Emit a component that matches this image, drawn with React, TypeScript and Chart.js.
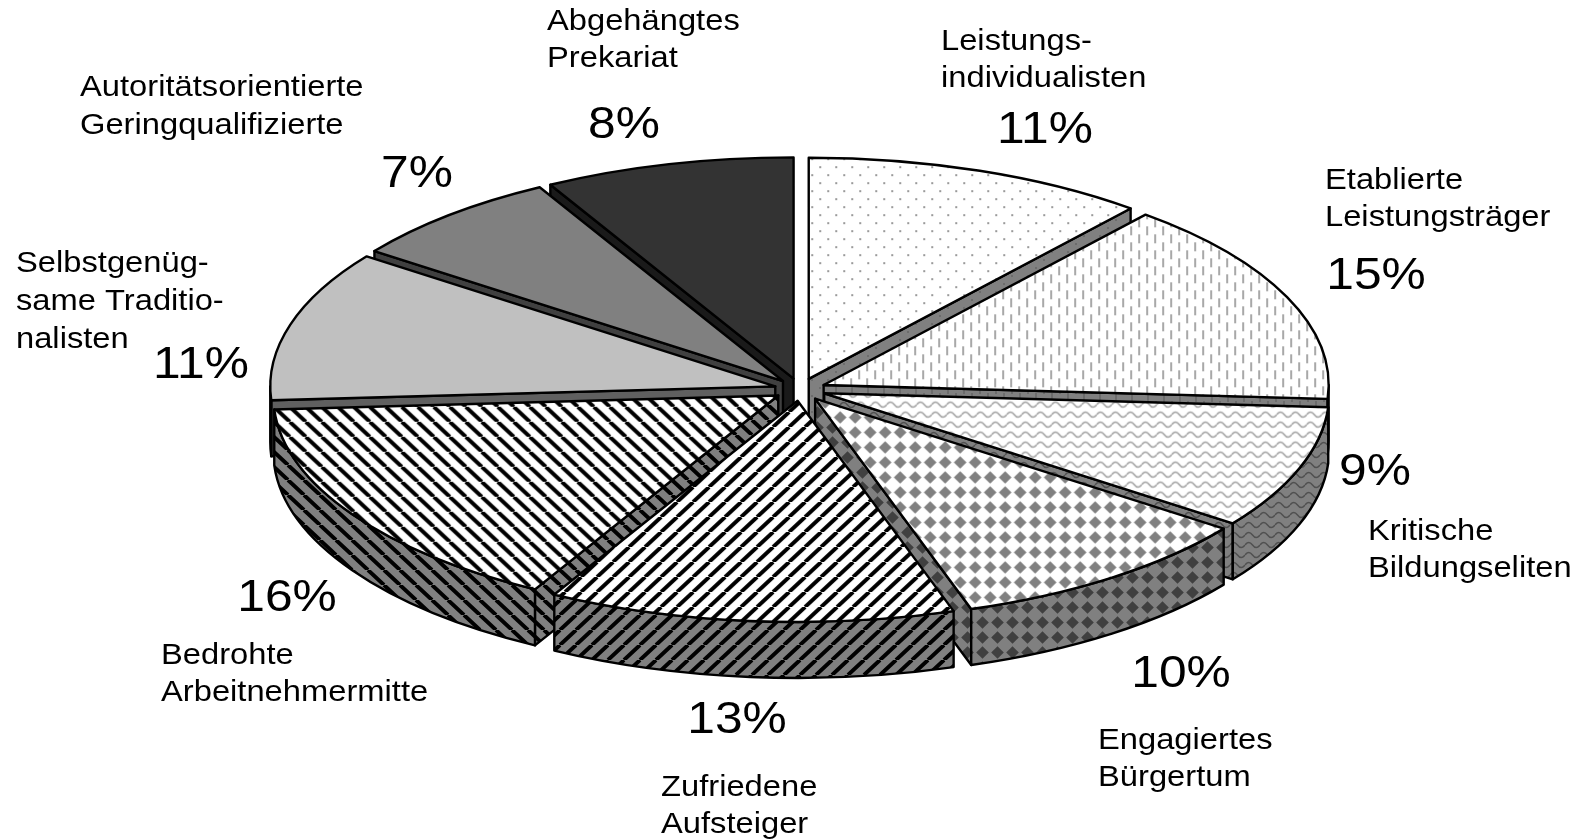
import React, { useEffect, useRef } from "react";
import Chart from "chart.js/auto";

const categories = [
  ["Leistungs-", "individualisten"],
  ["Etablierte", "Leistungsträger"],
  ["Kritische", "Bildungseliten"],
  ["Engagiertes", "Bürgertum"],
  ["Zufriedene", "Aufsteiger"],
  ["Bedrohte", "Arbeitnehmermitte"],
  ["Selbstgenüg-", "same Traditio-", "nalisten"],
  ["Autoritätsorientierte", "Geringqualifizierte"],
  ["Abgehängtes", "Prekariat"],
];
const values = [11, 15, 9, 10, 13, 16, 11, 7, 8];

// label layout, full-size pixels: [left x, centre y of the first line, line height]
const nameAt = [
  [941, 42, 37], [1325, 181, 37], [1368, 532, 37], [1098, 741, 37], [661, 788, 37],
  [161, 656, 37], [16, 264, 38], [80, 88, 37.5], [547, 22, 36.5],
];
// percent label centres, full-size pixels
const pctAt = [
  [1045, 131], [1376, 277], [1375, 473], [1181, 675], [737, 721],
  [287, 599], [201, 366], [417, 175], [624, 126],
];

const PIE = { cx: 800, cy: 389.5, radius: 505, squash: 0.438, depth: 56, explode: 25.75 };
const FONT = '"Liberation Sans", Arial, sans-serif';
const NAME_STYLE = { size: 30, stretch: 1.09 };
const PCT_STYLE = { size: 44, stretch: 1.13 };

type Painter = (c: CanvasRenderingContext2D, fg: string) => void;
function tile(w: number, h: number, bg: string, fg: string, paint: Painter) {
  const t = document.createElement("canvas");
  t.width = w; t.height = h;
  const c = t.getContext("2d")!;
  c.fillStyle = bg; c.fillRect(0, 0, w, h);
  paint(c, fg);
  return c.createPattern(t, "repeat")!;
}
const dots: Painter = (c, f) => { c.fillStyle = f; c.fillRect(3, 3, 2, 2); c.fillRect(11, 11, 2, 2); };
const dashes: Painter = (c, f) => { c.fillStyle = f; c.fillRect(3, 1, 2, 9); c.fillRect(11, 9, 2, 7); c.fillRect(11, 0, 2, 2); };
const waves: Painter = (c, f) => {
  c.strokeStyle = f; c.lineWidth = 1.5; c.beginPath();
  c.moveTo(0, 5);
  c.quadraticCurveTo(3.75, 0, 7.5, 5);
  c.quadraticCurveTo(11.25, 10, 15, 5);
  c.stroke();
};
const diamonds: Painter = (c, f) => {
  c.fillStyle = f;
  c.beginPath(); c.moveTo(1.2, 7.5); c.lineTo(7.5, 1.2); c.lineTo(13.8, 7.5); c.lineTo(7.5, 13.8); c.closePath(); c.fill();
};
const rising: Painter = (c, f) => {
  c.strokeStyle = f; c.lineWidth = 3.9; c.beginPath();
  for (let i = -16; i <= 32; i += 16) { c.moveTo(i, 15); c.lineTo(i + 16, 0); }
  c.stroke();
};
const falling: Painter = (c, f) => {
  c.strokeStyle = f; c.lineWidth = 3.9; c.beginPath();
  for (let i = -16; i <= 32; i += 16) { c.moveTo(i, 0); c.lineTo(i + 16, 15); }
  c.stroke();
};

function topFills() {
  const m = new DOMMatrix().scale(1, 1 / PIE.squash);
  const fills: (CanvasPattern | string)[] = [
    tile(16, 16, "#ffffff", "#9a9a9a", dots),
    tile(16, 16, "#ffffff", "#a8a8a8", dashes),
    tile(15, 10, "#ffffff", "#a0a0a0", waves),
    tile(15, 15, "#ffffff", "#808080", diamonds),
    tile(16, 15, "#ffffff", "#000000", rising),
    tile(16, 15, "#ffffff", "#000000", falling),
    "#c0c0c0", "#808080", "#333333",
  ];
  fills.forEach((f) => { if (typeof f !== "string") f.setTransform(m); });
  return fills;
}
function wallFills() {
  return [
    tile(16, 16, "#808080", "#6c6c6c", dots),
    tile(16, 16, "#808080", "#6c6c6c", dashes),
    tile(15, 10, "#808080", "#505050", waves),
    tile(15, 15, "#808080", "#404040", diamonds),
    tile(16, 15, "#808080", "#000000", rising),
    tile(16, 15, "#808080", "#000000", falling),
    "#606060", "#404040", "#1a1a1a",
  ] as (CanvasPattern | string)[];
}

const geometry = (arc: any) => {
  const mid = (arc.startAngle + arc.endAngle) / 2;
  return {
    mid, a0: arc.startAngle, a1: arc.endAngle, r: arc.outerRadius,
    x: PIE.cx + Math.cos(mid) * PIE.explode,
    y: PIE.cy + Math.sin(mid) * PIE.explode * PIE.squash,
  };
};

const pie3d = {
  id: "pie3d",
  beforeDatasetsDraw(chart: any) {
    const { ctx } = chart;
    const arcs = chart.getDatasetMeta(0).data as any[];
    const walls = (chart as any).$walls as (CanvasPattern | string)[];
    const order = arcs.map((_, i) => i).sort((p, q) => Math.sin(geometry(arcs[p]).mid) - Math.sin(geometry(arcs[q]).mid));
    ctx.save();
    ctx.lineWidth = 2.4; ctx.strokeStyle = "#000"; ctx.lineJoin = "round";
    const k = PIE.squash, D = PIE.depth;
    for (const i of order) {
      const g = geometry(arcs[i]);
      ctx.fillStyle = walls[i];
      // only the cut faces that turn towards the viewer
      const faces: number[] = [];
      if (Math.cos(g.a0) < 0) faces.push(g.a0);
      if (Math.cos(g.a1) > 0) faces.push(g.a1);
      for (const a of faces) {
        ctx.beginPath();
        ctx.moveTo(g.x, g.y);
        ctx.lineTo(g.x + Math.cos(a) * g.r, g.y + Math.sin(a) * g.r * k);
        ctx.lineTo(g.x + Math.cos(a) * g.r, g.y + Math.sin(a) * g.r * k + D);
        ctx.lineTo(g.x, g.y + D);
        ctx.closePath(); ctx.fill(); ctx.stroke();
      }
      for (const [lo, hi] of [[-Math.PI * 2, -Math.PI], [0, Math.PI], [Math.PI * 2, Math.PI * 3]]) {
        const s = Math.max(g.a0, lo), e = Math.min(g.a1, hi);
        if (e <= s) continue;
        ctx.beginPath();
        ctx.ellipse(g.x, g.y, g.r, g.r * k, 0, s, e);
        ctx.ellipse(g.x, g.y + D, g.r, g.r * k, 0, e, s, true);
        ctx.closePath(); ctx.fill(); ctx.stroke();
      }
    }
    ctx.restore();
  },
  // the top faces are the library's own arc elements, each moved out along its bisector and squashed
  beforeDatasetDraw(chart: any) {
    const { ctx, chartArea } = chart;
    const arcs = chart.getDatasetMeta(0).data as any[];
    arcs.forEach((arc) => {
      const g = geometry(arc);
      ctx.save();
      ctx.translate(g.x, g.y);
      ctx.scale(1, PIE.squash);
      ctx.translate(-arc.x, -arc.y);
      arc.draw(ctx, chartArea);
      ctx.restore();
    });
    return false;
  },
  afterDatasetsDraw(chart: any) {
    const { ctx } = chart;
    const arcs = chart.getDatasetMeta(0).data as any[];
    ctx.save();
    ctx.lineWidth = 2.4; ctx.strokeStyle = "#000"; ctx.lineJoin = "round";
    arcs.forEach((arc) => {
      const g = geometry(arc);
      ctx.beginPath();
      ctx.moveTo(g.x, g.y);
      ctx.ellipse(g.x, g.y, g.r, g.r * PIE.squash, 0, g.a0, g.a1);
      ctx.closePath();
      ctx.stroke();
    });
    ctx.restore();
  },
  afterDraw(chart: any) {
    const { ctx } = chart;
    ctx.save();
    ctx.fillStyle = "#000";
    ctx.textBaseline = "middle";
    ctx.save();
    ctx.scale(NAME_STYLE.stretch, 1);
    ctx.textAlign = "left";
    ctx.font = `${NAME_STYLE.size}px ${FONT}`;
    categories.forEach((lines, i) => {
      const [x, y, lh] = nameAt[i];
      lines.forEach((t, j) => ctx.fillText(t, x / NAME_STYLE.stretch, y + j * lh));
    });
    ctx.restore();
    ctx.scale(PCT_STYLE.stretch, 1);
    ctx.textAlign = "center";
    ctx.font = `${PCT_STYLE.size}px ${FONT}`;
    values.forEach((v, i) => ctx.fillText(`${v}%`, pctAt[i][0] / PCT_STYLE.stretch, pctAt[i][1]));
    ctx.restore();
  },
};

export default function App() {
  const ref = useRef<HTMLCanvasElement>(null);
  useEffect(() => {
    const canvas = ref.current!;
    const chart = new Chart(canvas, {
      type: "pie",
      data: {
        labels: categories.map((c) => c.join(" ")),
        datasets: [{
          data: values,
          backgroundColor: topFills() as any,
          borderWidth: 0,
        }],
      },
      options: {
        animation: false,
        responsive: false,
        events: [],
        radius: PIE.radius,
        layout: { padding: 0 },
        plugins: { legend: { display: false }, tooltip: { enabled: false } },
      } as any,
      plugins: [{ id: "walls", beforeInit(c: any) { c.$walls = wallFills(); } }, pie3d] as any,
    });
    return () => chart.destroy();
  }, []);
  return (
    <div style={{ position: "fixed", left: 0, top: 0, width: 1585, height: 839, background: "#fff" }}>
      <canvas ref={ref} width={1585} height={839} style={{ display: "block" }} />
    </div>
  );
}
